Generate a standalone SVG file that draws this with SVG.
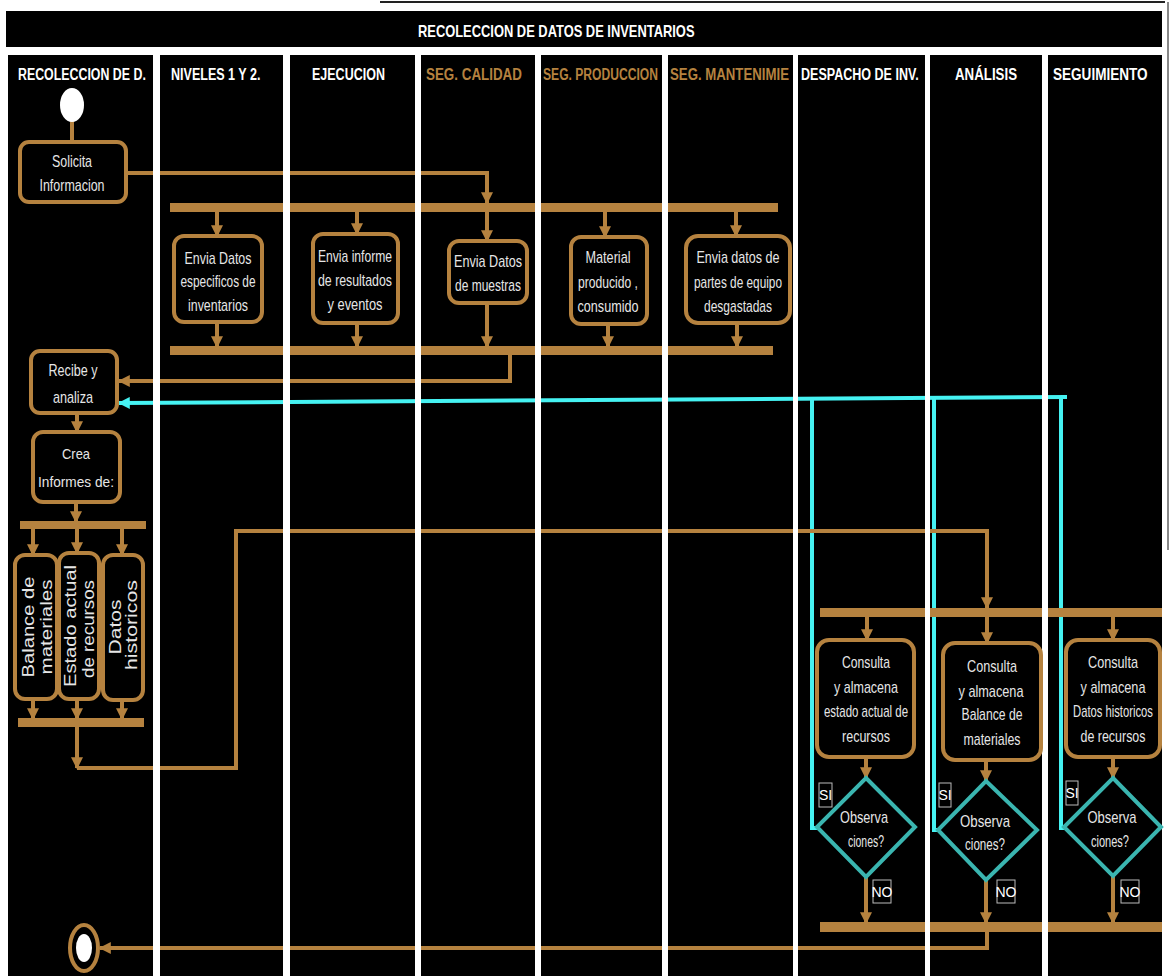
<svg xmlns="http://www.w3.org/2000/svg" width="1170" height="976" viewBox="0 0 1170 976">
<style>
.lane{fill:#000}
.sep{fill:#fff}
.hd{font-family:"Liberation Sans",Arial,sans-serif;font-weight:bold;font-size:17px;fill:#fff}
.hb{fill:#B5823F}
.box{fill:#000;stroke:#B5823F;stroke-width:4}
.t{font-family:"Liberation Sans Narrow","Liberation Sans",Arial,sans-serif;font-size:17px;fill:#E6E6E6;text-anchor:middle}
.tv{font-family:"Liberation Sans",Arial,sans-serif;font-size:16px;fill:#E6E6E6;text-anchor:middle}
.c{fill:none;stroke:#B5823F;stroke-width:4}
.ca{fill:none;stroke:#B5823F;stroke-width:4;marker-end:url(#ab)}
.bar{fill:#B5823F}
.cy{fill:none;stroke:#45F2F2;stroke-width:4}
.dia{fill:#000;stroke:#3AB5B0;stroke-width:4}
.lbl{fill:#000;stroke:#bbb;stroke-width:1}
.lt{font-family:"Liberation Sans Narrow","Liberation Sans",Arial,sans-serif;font-size:14px;fill:#fff;text-anchor:middle}
</style>
<defs>
<marker id="ab" viewBox="0 0 10 10" refX="9" refY="5" markerWidth="12" markerHeight="12" markerUnits="userSpaceOnUse" orient="auto"><path d="M0,0 L10,5 L0,10 z" fill="#B5823F"/></marker>
<marker id="ac" viewBox="0 0 10 10" refX="9" refY="5" markerWidth="12" markerHeight="12" markerUnits="userSpaceOnUse" orient="auto"><path d="M0,0 L10,5 L0,10 z" fill="#45F2F2"/></marker>
</defs>
<rect width="1170" height="976" fill="#fff"/>
<line x1="380" y1="2" x2="1165" y2="2" stroke="#222" stroke-width="2"/>
<line x1="1168" y1="2" x2="1168" y2="550" stroke="#888" stroke-width="2"/>
<g id="title">
<rect x="6" y="11" width="1156" height="36" fill="#000"/>
<text class="hd" transform="translate(418,37) scale(0.759,1)">RECOLECCION DE DATOS DE INVENTARIOS</text>
</g>
<g id="lanes">
<rect class="lane" x="8" y="55" width="145" height="921"/>
<rect class="lane" x="160" y="55" width="123" height="921"/>
<rect class="lane" x="290" y="55" width="125" height="921"/>
<rect class="lane" x="421" y="55" width="114" height="921"/>
<rect class="lane" x="541" y="55" width="121" height="921"/>
<rect class="lane" x="668" y="55" width="125" height="921"/>
<rect class="lane" x="798" y="55" width="127" height="921"/>
<rect class="lane" x="930" y="55" width="112" height="921"/>
<rect class="lane" x="1048" y="55" width="114" height="921"/>
<text class="hd" transform="translate(18,80) scale(0.728,1)">RECOLECCION DE D.</text>
<text class="hd" transform="translate(171,80) scale(0.738,1)">NIVELES 1 Y 2.</text>
<text class="hd" transform="translate(312,80) scale(0.736,1)">EJECUCION</text>
<text class="hd hb" transform="translate(426,80) scale(0.788,1)">SEG. CALIDAD</text>
<text class="hd hb" transform="translate(543,80) scale(0.712,1)">SEG. PRODUCCION</text>
<text class="hd hb" transform="translate(670,80) scale(0.778,1)">SEG. MANTENIMIE</text>
<text class="hd" transform="translate(801,80) scale(0.738,1)">DESPACHO DE INV.</text>
<text class="hd" transform="translate(955,80) scale(0.782,1)">ANÁLISIS</text>
<text class="hd" transform="translate(1053,80) scale(0.798,1)">SEGUIMIENTO</text>
</g>
<g id="connectors">
<path class="c" d="M72,120 V142"/>
<path class="ca" d="M126,173 H487 V203"/>
<rect class="bar" x="170" y="203" width="608" height="9"/>
<path class="ca" d="M217,212 V236"/>
<path class="ca" d="M357,212 V234"/>
<path class="ca" d="M487,212 V241"/>
<path class="ca" d="M605,212 V237"/>
<path class="ca" d="M736,212 V236"/>
<path class="ca" d="M217,322 V347"/>
<path class="ca" d="M357,323 V347"/>
<path class="ca" d="M487,303 V347"/>
<path class="ca" d="M608,324 V347"/>
<path class="ca" d="M737,323 V347"/>
<rect class="bar" x="170" y="346" width="603" height="9"/>
<path class="ca" d="M510,355 V381 H119"/>
<path class="cy" d="M1067,397 L119,403" marker-end="url(#ac)"/>
<path class="cy" d="M817,828 H812 V397"/>
<path class="cy" d="M938,830 H934 V397"/>
<path class="cy" d="M1064,828 H1061 V397"/>
<path class="ca" d="M77,413 V432"/>
<path class="ca" d="M76,502 V522"/>
<rect class="bar" x="20" y="521" width="126" height="8"/>
<path class="ca" d="M33,529 V555"/>
<path class="ca" d="M77,529 V553"/>
<path class="ca" d="M122,529 V555"/>
<path class="ca" d="M33,699 V719"/>
<path class="ca" d="M77,699 V719"/>
<path class="ca" d="M122,700 V719"/>
<rect class="bar" x="18" y="718" width="126" height="9"/>
<path class="ca" d="M77,727 V768"/>
<path class="ca" d="M77,768 H236 V531 H987 V608"/>
<rect class="bar" x="820" y="608" width="342" height="9"/>
<path class="ca" d="M867,617 V640"/>
<path class="ca" d="M987,617 V643"/>
<path class="ca" d="M1113,617 V640"/>
<path class="ca" d="M866,757 V778"/>
<path class="ca" d="M986,760 V781"/>
<path class="ca" d="M1113,757 V778"/>
<path class="ca" d="M866,877 V923"/>
<path class="ca" d="M986,880 V923"/>
<path class="ca" d="M1113,876 V923"/>
<rect class="bar" x="820" y="922" width="342" height="10"/>
<path class="ca" d="M987,932 V948 H100"/>
</g>
<g id="separators">
<rect class="sep" x="153" y="55" width="7" height="921"/>
<rect class="sep" x="283" y="55" width="7" height="921"/>
<rect class="sep" x="415" y="55" width="6" height="921"/>
<rect class="sep" x="535" y="55" width="6" height="921"/>
<rect class="sep" x="662" y="55" width="6" height="921"/>
<rect class="sep" x="793" y="55" width="5" height="921"/>
<rect class="sep" x="925" y="55" width="5" height="921"/>
<rect class="sep" x="1042" y="55" width="6" height="921"/>
</g>
<g id="start"><ellipse cx="72" cy="105" rx="12" ry="17" fill="#fff"/></g>
<g id="solicita">
<rect class="box" x="20" y="142" width="106" height="60" rx="9"/>
<text class="t" x="72" y="167" textLength="40" lengthAdjust="spacingAndGlyphs">Solicita</text>
<text class="t" x="72" y="191" textLength="65" lengthAdjust="spacingAndGlyphs">Informacion</text>
</g>
<g id="envia-especificos">
<rect class="box" x="174" y="236" width="88" height="86" rx="10"/>
<text class="t" x="218" y="264" textLength="67" lengthAdjust="spacingAndGlyphs">Envia Datos</text>
<text class="t" x="218" y="287" textLength="75" lengthAdjust="spacingAndGlyphs">especificos de</text>
<text class="t" x="218" y="311" textLength="60" lengthAdjust="spacingAndGlyphs">inventarios</text>
</g>
<g id="envia-informe">
<rect class="box" x="313" y="234" width="85" height="89" rx="10"/>
<text class="t" x="355" y="262" textLength="74" lengthAdjust="spacingAndGlyphs">Envia informe</text>
<text class="t" x="355" y="286" textLength="74" lengthAdjust="spacingAndGlyphs">de resultados</text>
<text class="t" x="355" y="310" textLength="55" lengthAdjust="spacingAndGlyphs">y eventos</text>
</g>
<g id="envia-muestras">
<rect class="box" x="449" y="241" width="78" height="62" rx="10"/>
<text class="t" x="488" y="267" textLength="68" lengthAdjust="spacingAndGlyphs">Envia Datos</text>
<text class="t" x="488" y="291" textLength="66" lengthAdjust="spacingAndGlyphs">de muestras</text>
</g>
<g id="material">
<rect class="box" x="571" y="237" width="76" height="87" rx="10"/>
<text class="t" x="608" y="263" textLength="45" lengthAdjust="spacingAndGlyphs">Material</text>
<text class="t" x="608" y="288" textLength="60" lengthAdjust="spacingAndGlyphs">producido ,</text>
<text class="t" x="608" y="312" textLength="61" lengthAdjust="spacingAndGlyphs">consumido</text>
</g>
<g id="envia-partes">
<rect class="box" x="686" y="236" width="104" height="87" rx="12"/>
<text class="t" x="738" y="263" textLength="83" lengthAdjust="spacingAndGlyphs">Envia datos de</text>
<text class="t" x="738" y="288" textLength="88" lengthAdjust="spacingAndGlyphs">partes de equipo</text>
<text class="t" x="738" y="312" textLength="68" lengthAdjust="spacingAndGlyphs">desgastadas</text>
</g>
<g id="recibe">
<rect class="box" x="31" y="351" width="86" height="62" rx="9"/>
<text class="t" x="73" y="376" textLength="49" lengthAdjust="spacingAndGlyphs">Recibe y</text>
<text class="t" x="73" y="403" textLength="40" lengthAdjust="spacingAndGlyphs">analiza</text>
</g>
<g id="crea">
<rect class="box" x="33" y="432" width="87" height="70" rx="10"/>
<text class="t" x="76" y="459" textLength="28" lengthAdjust="spacingAndGlyphs" style="font-size:15px">Crea</text>
<text class="t" x="76" y="487" textLength="76" lengthAdjust="spacingAndGlyphs" style="font-size:15px">Informes de:</text>
</g>
<g id="balance">
<rect class="box" x="15" y="555" width="42" height="144" rx="10"/>
<text class="tv" transform="translate(34,627) rotate(-90)" textLength="101" lengthAdjust="spacingAndGlyphs">Balance de</text>
<text class="tv" transform="translate(52,627) rotate(-90)" textLength="95" lengthAdjust="spacingAndGlyphs">materiales</text>
</g>
<g id="estado">
<rect class="box" x="59" y="553" width="40" height="146" rx="10"/>
<text class="tv" transform="translate(76,626) rotate(-90)" textLength="122" lengthAdjust="spacingAndGlyphs">Estado actual</text>
<text class="tv" transform="translate(94,629) rotate(-90)" textLength="98" lengthAdjust="spacingAndGlyphs">de recursos</text>
</g>
<g id="datos">
<rect class="box" x="103" y="555" width="40" height="145" rx="10"/>
<text class="tv" transform="translate(121,627) rotate(-90)" textLength="55" lengthAdjust="spacingAndGlyphs">Datos</text>
<text class="tv" transform="translate(137,625) rotate(-90)" textLength="90" lengthAdjust="spacingAndGlyphs">historicos</text>
</g>
<g id="consulta-estado">
<rect class="box" x="817" y="640" width="97" height="117" rx="12"/>
<text class="t" x="866" y="668" textLength="48" lengthAdjust="spacingAndGlyphs">Consulta</text>
<text class="t" x="866" y="693" textLength="64" lengthAdjust="spacingAndGlyphs">y almacena</text>
<text class="t" x="866" y="717" textLength="84" lengthAdjust="spacingAndGlyphs">estado actual de</text>
<text class="t" x="866" y="742" textLength="48" lengthAdjust="spacingAndGlyphs">recursos</text>
</g>
<g id="consulta-balance">
<rect class="box" x="943" y="643" width="98" height="117" rx="12"/>
<text class="t" x="992" y="672" textLength="50" lengthAdjust="spacingAndGlyphs">Consulta</text>
<text class="t" x="991" y="697" textLength="65" lengthAdjust="spacingAndGlyphs">y almacena</text>
<text class="t" x="992" y="720" textLength="61" lengthAdjust="spacingAndGlyphs">Balance de</text>
<text class="t" x="992" y="745" textLength="57" lengthAdjust="spacingAndGlyphs">materiales</text>
</g>
<g id="consulta-datos">
<rect class="box" x="1066" y="640" width="94" height="117" rx="12"/>
<text class="t" x="1113" y="668" textLength="50" lengthAdjust="spacingAndGlyphs">Consulta</text>
<text class="t" x="1113" y="693" textLength="65" lengthAdjust="spacingAndGlyphs">y almacena</text>
<text class="t" transform="translate(1113,717) scale(0.66,1)" style="font-family:'Liberation Sans',Arial,sans-serif">Datos historicos</text>
<text class="t" x="1113" y="742" textLength="65" lengthAdjust="spacingAndGlyphs">de recursos</text>
</g>
<g id="decision-1">
<polygon class="dia" points="866,778 915,827 866,877 817,827"/>
<text class="t" x="864" y="823" textLength="48" lengthAdjust="spacingAndGlyphs">Observa</text>
<text class="t" x="866" y="847" textLength="36" lengthAdjust="spacingAndGlyphs">ciones?</text>
<rect class="lbl" x="819" y="783" width="13" height="24"/>
<text class="lt" x="825.5" y="800">SI</text>
<rect class="lbl" x="873" y="880" width="18" height="23"/>
<text class="lt" x="882" y="897">NO</text>
</g>
<g id="decision-2">
<polygon class="dia" points="986,781 1037,830 986,880 938,830"/>
<text class="t" x="985" y="827" textLength="50" lengthAdjust="spacingAndGlyphs">Observa</text>
<text class="t" x="985" y="850" textLength="40" lengthAdjust="spacingAndGlyphs">ciones?</text>
<rect class="lbl" x="939" y="783" width="12" height="24"/>
<text class="lt" x="945" y="800">SI</text>
<rect class="lbl" x="997" y="880" width="18" height="23"/>
<text class="lt" x="1006" y="897">NO</text>
</g>
<g id="decision-3">
<polygon class="dia" points="1113,778 1161,827 1113,876 1064,827"/>
<text class="t" x="1112" y="823" textLength="49" lengthAdjust="spacingAndGlyphs">Observa</text>
<text class="t" x="1110" y="847" textLength="38" lengthAdjust="spacingAndGlyphs">ciones?</text>
<rect class="lbl" x="1066" y="781" width="12" height="24"/>
<text class="lt" x="1072" y="798">SI</text>
<rect class="lbl" x="1121" y="880" width="18" height="23"/>
<text class="lt" x="1130" y="897">NO</text>
</g>
<g id="end">
<ellipse cx="84" cy="948" rx="14" ry="23" fill="#000" stroke="#B5823F" stroke-width="4"/>
<ellipse cx="84" cy="948" rx="8" ry="14" fill="#fff"/>
</g>
</svg>
